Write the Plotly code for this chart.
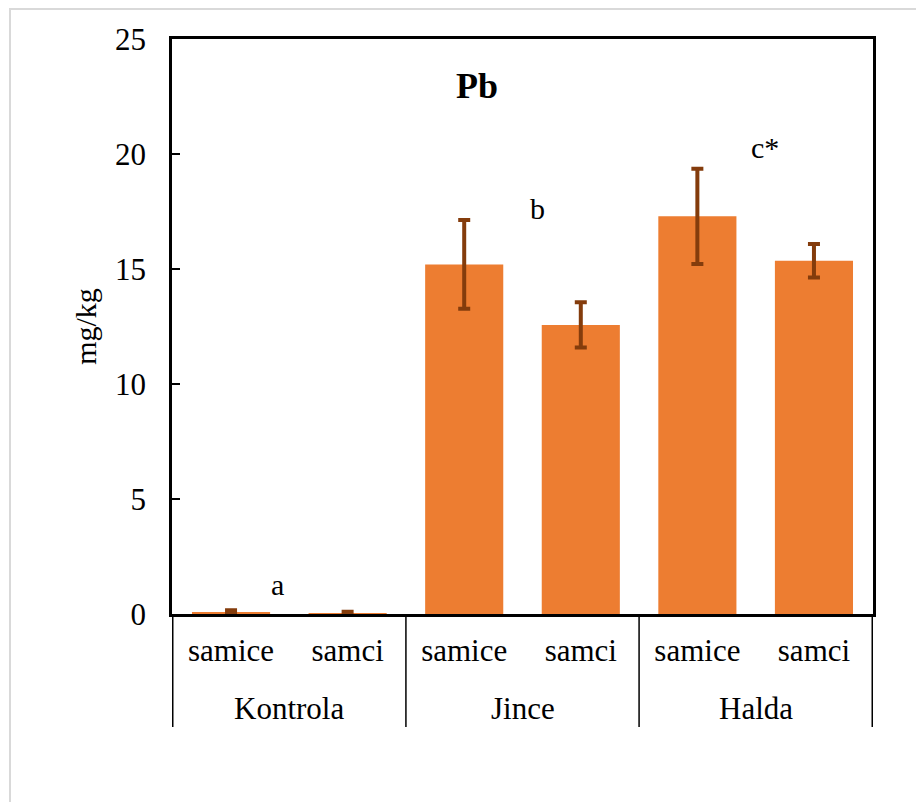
import plotly.graph_objects as go

# Pb content by site and sex
sites = ["Kontrola", "Jince", "Halda"]
sexes = ["samice", "samci", "samice", "samci", "samice", "samci"]
bar_site = ["Kontrola", "Kontrola", "Jince", "Jince", "Halda", "Halda"]
pb_mean = [0.08, 0.04, 15.2, 12.57, 17.29, 15.36]
pb_err = [0.08, 0.06, 1.93, 0.98, 2.07, 0.73]

y_ticks = [0, 5, 10, 15, 20, 25]

# significance letters: (text, x paper, y paper)
sig_labels = ["a", "b", "c*"]
sig_x = [0.151, 0.521, 0.846]
sig_y = [0.052, 0.705, 0.812]

FONT = "Times New Roman, Liberation Serif, Tinos, serif"

categories = [f"{site} {sex}" for site, sex in zip(bar_site, sexes)]

fig = go.Figure()
fig.add_trace(go.Bar(
    x=categories,
    y=pb_mean,
    marker=dict(color="#ED7D31", line=dict(width=0)),
    error_y=dict(type="data", array=pb_err, visible=True,
                 color="#843C0C", thickness=4, width=6),
    showlegend=False,
))

fig.update_layout(
    width=916, height=802,
    margin=dict(l=172, r=43, t=39, b=188),
    paper_bgcolor="white", plot_bgcolor="white",
    bargap=0.33,
    font=dict(family=FONT, size=30, color="black"),
)

fig.update_xaxes(
    type="category", tickvals=categories, ticktext=sexes,
    showline=True, linecolor="black", linewidth=2.5, mirror=True,
    showgrid=False, ticks="", ticklabelstandoff=7,
    tickfont=dict(family=FONT, size=31, color="black"),
)
fig.update_yaxes(
    range=[0, 25], tickvals=y_ticks,
    showline=True, linecolor="black", linewidth=2.5, mirror=True,
    showgrid=False, zeroline=False,
    ticks="inside", ticklen=8, tickwidth=1.5, tickcolor="black",
    ticklabelstandoff=17,
    tickfont=dict(family=FONT, size=31, color="black"),
    title=dict(text="mg/kg", font=dict(family=FONT, size=30), standoff=10),
)

# site labels centred under each pair of bars, with dividers between sites
n_per_site = 2
for i, site in enumerate(sites):
    fig.add_annotation(text=site, x=i * n_per_site + (n_per_site - 1) / 2,
                       xref="x", y=-0.165, yref="paper",
                       xanchor="center", yanchor="middle", showarrow=False,
                       font=dict(family=FONT, size=31, color="black"))
for k in range(len(sites) + 1):
    xd = k * n_per_site - 0.5
    fig.add_shape(type="line", xref="x", yref="paper", x0=xd, x1=xd,
                  y0=0, y1=-0.1965, line=dict(color="black", width=1.5))

fig.add_annotation(text="<b>Pb</b>", x=0.435, y=0.918, xref="paper", yref="paper",
                   xanchor="center", yanchor="middle", showarrow=False,
                   font=dict(family=FONT, size=36, color="black"))
for t, sx, sy in zip(sig_labels, sig_x, sig_y):
    fig.add_annotation(text=t, x=sx, y=sy, xref="paper", yref="paper",
                       xanchor="center", yanchor="middle", showarrow=False,
                       font=dict(family=FONT, size=30, color="black"))

# light outer frame around the chart area
fig.add_shape(type="path", xref="paper", yref="paper",
              path="M -0.2311,-0.4 L -0.2311,1.0522 L 1.1,1.0522",
              line=dict(color="#D9D9D9", width=2))

fig.write_html("out.html")
